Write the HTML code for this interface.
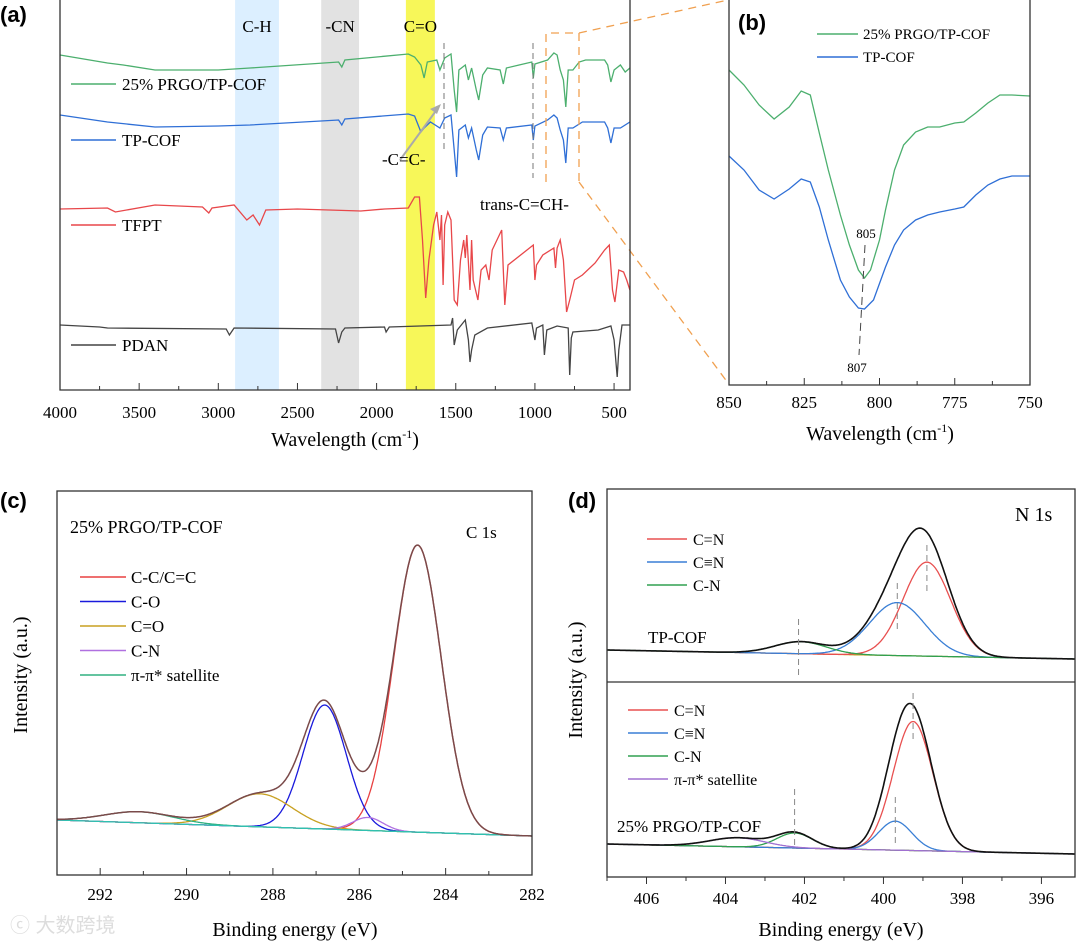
<!DOCTYPE html>
<html><head><meta charset="utf-8"><style>
html,body{margin:0;padding:0;background:#fff;}
svg{display:block;font-family:"Liberation Serif","Noto Serif CJK SC",serif;}
.lbl{font-family:"Liberation Sans",sans-serif;font-weight:bold;font-size:22px;}
</style></head><body>
<svg id="fig" width="1080" height="944" viewBox="0 0 1080 944" xmlns="http://www.w3.org/2000/svg"></svg>
<script>
// ---------- Panel (a) data: FTIR [wavenumber, relative transmittance] ----------
const aTicks=[4000,3500,3000,2500,2000,1500,1000,500];
const aGreen=[[4000,335],[3700,327],[3600,325],[3400,320],[3000,320],[2800,322],[2240,328],[2220,323],[2200,330],[1800,336],[1760,333],[1720,325],[1700,312],[1680,328],[1620,330],[1600,320],[1570,332],[1530,336],[1510,300],[1495,278],[1480,320],[1440,325],[1420,310],[1400,322],[1370,300],[1355,290],[1330,315],[1300,322],[1220,320],[1200,306],[1180,322],[1100,325],[1020,328],[1010,312],[1000,326],[920,330],[880,337],[860,335],[840,320],[820,310],[805,283],[790,320],[760,320],[720,328],[680,330],[560,330],[540,325],[520,308],[500,320],[460,325],[430,318],[400,322]];
const aBlue=[[4000,275],[3700,268],[3400,263],[3000,264],[2800,265],[2240,270],[2220,265],[2200,271],[1800,276],[1760,274],[1720,258],[1700,262],[1660,268],[1600,262],[1570,272],[1530,275],[1510,240],[1495,213],[1480,260],[1440,265],[1420,252],[1400,262],[1370,240],[1355,230],[1330,255],[1300,263],[1220,262],[1200,250],[1180,262],[1020,265],[1010,250],[1000,264],[920,270],[880,275],[860,272],[840,260],[820,250],[805,227],[790,262],[760,262],[700,268],[560,268],[540,262],[520,247],[500,262],[460,262],[400,268]];
const aRed=[[4000,181],[3700,182],[3650,178],[3400,185],[3100,183],[3060,177],[3040,182],[2900,185],[2820,170],[2780,175],[2740,165],[2700,180],[2500,181],[2100,179],[1950,181],[1800,182],[1760,193],[1730,193],[1710,150],[1690,92],[1670,130],[1640,165],[1620,178],[1600,150],[1590,175],[1580,105],[1570,165],[1550,178],[1530,170],[1510,90],[1490,85],[1470,130],[1450,150],[1440,132],[1430,155],[1410,100],[1400,150],[1390,110],[1360,90],[1340,120],[1310,125],[1290,110],[1270,140],[1210,160],[1200,120],[1190,85],[1170,125],[1050,140],[1010,145],[1000,110],[990,125],[950,135],[880,142],[870,122],[860,142],[840,150],[820,130],[800,78],[780,90],[750,110],[700,115],[620,127],[560,140],[530,145],[510,100],[495,88],[470,120],[440,118],[420,110],[400,100]];
const aBlack=[[4000,65],[3750,63],[3700,62],[2950,61],[2930,55],[2900,62],[2260,61],[2240,47],[2220,58],[2200,62],[1950,63],[1940,58],[1920,63],[1530,65],[1520,72],[1510,45],[1490,60],[1450,68],[1440,70],[1420,50],[1410,28],[1400,40],[1380,55],[1300,62],[1020,67],[1000,50],[990,62],[950,65],[940,35],[925,60],[860,64],[790,62],[780,15],[770,52],[760,58],[600,60],[520,64],[500,50],[480,13],[470,40],[450,65],[400,65]];
const aBands=[[2894,2617,"C-H","#dcefff"],[2350,2111,"-CN","#e2e2e2"],[1815,1632,"C=O","#f7f759"]];
// ---------- Panel (b) data ----------
const bTicks=[850,825,800,775,750];
const bGreen=[[850,315],[845,300],[840,280],[835,266],[830,278],[826,294],[823,290],[820,252],[817,215],[813,170],[810,140],[807,115],[805,107],[803,115],[800,145],[798,175],[795,215],[792,240],[788,253],[784,258],[780,258],[775,262],[772,263],[768,272],[764,282],[760,290],[756,290],[750,289]];
const bBlue=[[850,229],[845,215],[840,195],[835,186],[830,196],[826,206],[823,203],[820,178],[817,145],[813,105],[810,88],[807,77],[805,76],[802,85],[798,118],[795,140],[792,155],[788,165],[784,170],[780,173],[775,176],[772,178],[768,190],[764,200],[760,206],[756,209],[750,209]];
// ---------- Panel (c) data: C1s peaks [center eV, height, sigma] ----------
const cTicks=[292,290,288,286,284,282];
const cNames=["C-C/C=C","C-O","C=O","C-N","π-π* satellite"];
const cCenters=[284.65,286.8,288.3,285.8,291.1];
const cHeights=[287,124,33,13,11];
const cSigmas=[0.55,0.5,0.75,0.35,0.8];
const cBase=[293,820,282,836];
// ---------- Panel (d) data: N1s ----------
const dTicks=[406,404,402,400,398,396];
const dTopNames=["C=N","C≡N","C-N"];
const dTopCenters=[398.9,399.65,402.1];
const dTopHeights=[94,53,12];
const dTopSigmas=[0.6,0.7,0.65];
const dBotNames=["C=N","C≡N","C-N","π-π* satellite"];
const dBotCenters=[399.25,399.7,402.25,403.7];
const dBotHeights=[129,29,15,9];
const dBotSigmas=[0.5,0.42,0.45,0.7];

const S=document.getElementById('fig');
const NS="http://www.w3.org/2000/svg";
function mk(tag,at,parent,name,txt){const e=document.createElementNS(NS,tag);for(const k in at)e.setAttribute(k,at[k]);


if(txt!==undefined)e.textContent=txt;(parent||S).appendChild(e);return e;}
function lin(d0,d1,p0,p1){return v=>p0+(v-d0)*(p1-p0)/(d1-d0);}
function path(pts){return pts.map((p,i)=>(i?'L':'M')+p[0].toFixed(1)+' '+p[1].toFixed(1)).join('');}
function gauss(x,c,h,s){return h*Math.exp(-0.5*((x-c)/s)**2);}

// ===== Panel (a) =====
const ax=lin(4000,400,60,629.9), ay=v=>390-v;
aBands.forEach(b=>{mk('rect',{x:ax(b[0]),y:0,width:ax(b[1])-ax(b[0]),height:390,fill:b[3]},S,'band-'+b[2].replace(/[^A-Za-z]/g,'').toLowerCase());
mk('text',{x:(ax(b[0])+ax(b[1]))/2,y:32,'text-anchor':'middle','font-size':17},S,'band-label',b[2]);});
[[aGreen,"#4caf6e","green-ftir-curve"],[aBlue,"#2f6fd6","blue-ftir-curve"],[aRed,"#e8474a","red-ftir-curve"],[aBlack,"#444","black-ftir-curve"]].forEach(c=>{
mk('path',{d:path(c[0].map(p=>[ax(p[0]),ay(p[1])])),fill:'none',stroke:c[1],'stroke-width':1.3},S,c[2]);});
mk('line',{x1:444,y1:43,x2:444,y2:150,stroke:'#777','stroke-dasharray':'6,4'},S,'dashed-marker');
mk('line',{x1:533,y1:43,x2:533,y2:178,stroke:'#777','stroke-dasharray':'6,4'},S,'dashed-marker');
mk('path',{d:'M546 182 L546 33 L579 33 L579 182 M579 182 L728 383 M579 33 L728 0',fill:'none',stroke:'#f0a050','stroke-dasharray':'8,6','stroke-width':1.3},S,'zoom-box');
mk('line',{x1:400,y1:160,x2:438,y2:108,stroke:'#aaa','stroke-width':2},S,'arrow');
mk('path',{d:'M441 104 L430 109 L437 114Z',fill:'#aaa'},S,'arrow-head');
mk('text',{x:382,y:165,'font-size':17},S,'cc-label','-C=C-');
mk('text',{x:480,y:210,'font-size':17},S,'trans-label','trans-C=CH-');
[["25% PRGO/TP-COF","#4caf6e",84],["TP-COF","#2f6fd6",140],["TFPT","#e8474a",225],["PDAN","#444",345]].forEach(l=>{
mk('line',{x1:71,x2:116,y1:l[2],y2:l[2],stroke:l[1],'stroke-width':1.5},S,'legend-line');
mk('text',{x:122,y:l[2]+6,'font-size':17},S,'legend-entry',l[0]);});
mk('path',{d:'M60 0 V390 H630 V0',fill:'none',stroke:'#333','stroke-width':1.3},S,'axis-frame-a');
aTicks.forEach(t=>{mk('line',{x1:ax(t),x2:ax(t),y1:390,y2:383,stroke:'#333'},S,'tick');
mk('text',{x:ax(t),y:418,'text-anchor':'middle','font-size':17},S,'x-tick-label',t);
if(t>500)mk('line',{x1:ax(t-250),x2:ax(t-250),y1:390,y2:386,stroke:'#333'},S,'minor-tick');});
mk('text',{x:345,y:446,'text-anchor':'middle','font-size':20},S,'x-axis-title-a').innerHTML='Wavelength (cm<tspan dy="-8" font-size="12">-1</tspan><tspan dy="8">)</tspan>';
mk('text',{x:0,y:22,class:'lbl'},S,'panel-label-a','(a)');

// ===== Panel (b) =====
const bx=lin(850,750,729,1030), by=v=>385-v;
mk('path',{d:path(bGreen.map(p=>[bx(p[0]),by(p[1])])),fill:'none',stroke:'#4caf6e','stroke-width':1.3},S,'b-green-curve');
mk('path',{d:path(bBlue.map(p=>[bx(p[0]),by(p[1])])),fill:'none',stroke:'#2f6fd6','stroke-width':1.3},S,'b-blue-curve');
mk('line',{x1:865,y1:245,x2:859,y2:355,stroke:'#444','stroke-dasharray':'8,5'},S,'b-dash');
mk('text',{x:866,y:238,'text-anchor':'middle','font-size':13},S,'b-805','805');
mk('text',{x:857,y:372,'text-anchor':'middle','font-size':13},S,'b-807','807');
[["25% PRGO/TP-COF","#4caf6e",34],["TP-COF","#2f6fd6",57]].forEach(l=>{
mk('line',{x1:817,x2:858,y1:l[2],y2:l[2],stroke:l[1],'stroke-width':1.5},S,'legend-line');
mk('text',{x:863,y:l[2]+5,'font-size':15},S,'legend-entry',l[0]);});
mk('path',{d:'M729 0 V385 H1030 V0',fill:'none',stroke:'#333','stroke-width':1.3},S,'axis-frame-b');
bTicks.forEach(t=>{mk('line',{x1:bx(t),x2:bx(t),y1:385,y2:378,stroke:'#333'},S,'tick');
mk('text',{x:bx(t),y:408,'text-anchor':'middle','font-size':17},S,'x-tick-label',t);
if(t>750)mk('line',{x1:bx(t-12.5),x2:bx(t-12.5),y1:385,y2:381,stroke:'#333'},S,'minor-tick');});
mk('text',{x:880,y:440,'text-anchor':'middle','font-size':20},S,'x-axis-title-b').innerHTML='Wavelength (cm<tspan dy="-8" font-size="12">-1</tspan><tspan dy="8">)</tspan>';
mk('text',{x:738,y:30,class:'lbl'},S,'panel-label-b','(b)');

// ===== Panel (c) =====
const cx=lin(293,282,57,532);
const cbl=x=>cBase[1]+(x-cBase[0])*(cBase[3]-cBase[1])/(cBase[2]-cBase[0]);
const cColors=["#e84040","#1a1adc","#c8a020","#b070e0","#30b080"];
const xsC=[];for(let x=293;x>=282;x-=0.02)xsC.push(x);
cCenters.forEach((c,i)=>{mk('path',{d:path(xsC.map(x=>[cx(x),cbl(x)-gauss(x,c,cHeights[i],cSigmas[i])])),fill:'none',stroke:cColors[i],'stroke-width':1.3},S,'c-peak-'+i);});
mk('path',{d:path(xsC.map(x=>[cx(x),cbl(x)])),fill:'none',stroke:'#30c0b0','stroke-width':1.3},S,'c-baseline');
mk('path',{d:path(xsC.map(x=>[cx(x),cbl(x)-cCenters.reduce((s,c,i)=>s+gauss(x,c,cHeights[i],cSigmas[i]),0)])),fill:'none',stroke:'#7a4a4a','stroke-width':1.5},S,'c-envelope');
cNames.forEach((n,i)=>{const y=577+i*24.5;
mk('line',{x1:80,x2:126,y1:y,y2:y,stroke:cColors[i],'stroke-width':1.5},S,'legend-line');
mk('text',{x:131,y:y+6,'font-size':17},S,'legend-entry',n);});
mk('text',{x:70,y:533,'font-size':18},S,'c-sample-label','25% PRGO/TP-COF');
mk('text',{x:466,y:538,'font-size':17},S,'c1s-label','C 1s');
mk('rect',{x:57,y:491,width:475,height:384,fill:'none',stroke:'#333','stroke-width':1.3},S,'axis-frame-c');
cTicks.forEach(t=>{mk('line',{x1:cx(t),x2:cx(t),y1:875,y2:868,stroke:'#333'},S,'tick');
mk('text',{x:cx(t),y:900,'text-anchor':'middle','font-size':17},S,'x-tick-label',t);
mk('line',{x1:cx(t+1),x2:cx(t+1),y1:875,y2:871,stroke:'#333'},S,'minor-tick');});
mk('text',{x:295,y:936,'text-anchor':'middle','font-size':20},S,'x-axis-title-c','Binding energy (eV)');
mk('text',{x:0,y:0,transform:'translate(27,675) rotate(-90)','text-anchor':'middle','font-size':20},S,'y-axis-title-c','Intensity (a.u.)');
mk('text',{x:0,y:508,class:'lbl'},S,'panel-label-c','(c)');
mk('text',{x:10,y:932,'font-size':20,fill:'#ddd','font-family':'"Liberation Sans","Noto Sans CJK SC",sans-serif'},S,'watermark','ⓒ 大数跨境');

// ===== Panel (d) =====
const dx=lin(407,395.15,607,1075);
const xsD=[];for(let x=407;x>=395.15;x-=0.02)xsD.push(x);
function drawD(names,cen,hts,sig,b0,b1,cols,pre){
const bl=x=>b0+(x-407)*(b1-b0)/(395.15-407);
mk('path',{d:path(xsD.map(x=>[dx(x),bl(x)])),fill:'none',stroke:'#c8a020','stroke-width':1.3},S,pre+'-baseline');
cen.forEach((c,i)=>{mk('path',{d:path(xsD.map(x=>[dx(x),bl(x)-gauss(x,c,hts[i],sig[i])])),fill:'none',stroke:cols[i],'stroke-width':1.3},S,pre+'-peak-'+i);});
mk('path',{d:path(xsD.map(x=>[dx(x),bl(x)-cen.reduce((s,c,i)=>s+gauss(x,c,hts[i],sig[i]),0)])),fill:'none',stroke:'#111','stroke-width':1.6},S,pre+'-envelope');}
const dCols=["#e85050","#3a7fd5","#30a050","#a070d0"];
drawD(dTopNames,dTopCenters,dTopHeights,dTopSigmas,650,659,dCols,'d-top');
drawD(dBotNames,dBotCenters,dBotHeights,dBotSigmas,844,854,dCols,'d-bottom');
[[402.15,619,675],[399.65,583,632],[398.9,545,593],[399.25,693,743],[399.7,797,845],[402.25,789,845]].forEach(d=>{
mk('line',{x1:dx(d[0]),x2:dx(d[0]),y1:d[1],y2:d[2],stroke:'#888','stroke-dasharray':'6,4'},S,'d-dash');});
dTopNames.forEach((n,i)=>{const y=539+i*23;
mk('line',{x1:647,x2:687,y1:y,y2:y,stroke:dCols[i],'stroke-width':1.5},S,'legend-line');
mk('text',{x:693,y:y+6,'font-size':16},S,'legend-entry',n);});
dBotNames.forEach((n,i)=>{const y=710+i*23;
mk('line',{x1:628,x2:668,y1:y,y2:y,stroke:dCols[i],'stroke-width':1.5},S,'legend-line');
mk('text',{x:674,y:y+6,'font-size':16},S,'legend-entry',n);});
mk('text',{x:1015,y:521,'font-size':20},S,'n1s-label','N 1s');
mk('text',{x:648,y:643,'font-size':17},S,'d-top-sample','TP-COF');
mk('text',{x:617,y:832,'font-size':17},S,'d-bottom-sample','25% PRGO/TP-COF');
mk('rect',{x:607,y:489,width:468,height:388,fill:'none',stroke:'#333','stroke-width':1.3},S,'axis-frame-d');
mk('line',{x1:607,x2:1075,y1:682,y2:682,stroke:'#333','stroke-width':1.3},S,'d-divider');
dTicks.forEach(t=>{mk('line',{x1:dx(t),x2:dx(t),y1:877,y2:884,stroke:'#333'},S,'tick');
mk('text',{x:dx(t),y:904,'text-anchor':'middle','font-size':17},S,'x-tick-label',t);
mk('line',{x1:dx(t+1),x2:dx(t+1),y1:877,y2:881,stroke:'#333'},S,'minor-tick');});
mk('text',{x:841,y:936,'text-anchor':'middle','font-size':20},S,'x-axis-title-d','Binding energy (eV)');
mk('text',{x:0,y:0,transform:'translate(582,680) rotate(-90)','text-anchor':'middle','font-size':20},S,'y-axis-title-d','Intensity (a.u.)');
mk('text',{x:568,y:508,class:'lbl'},S,'panel-label-d','(d)');
</script>
</body></html>
